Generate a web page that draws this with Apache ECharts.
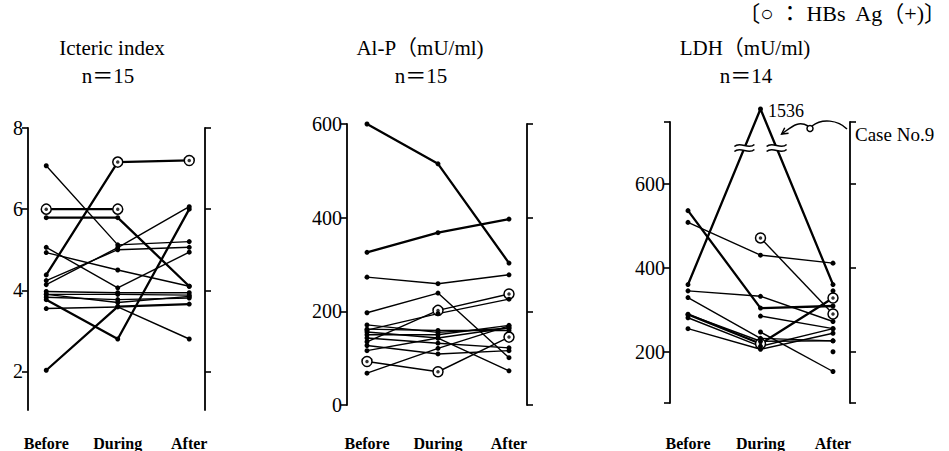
<!DOCTYPE html>
<html><head><meta charset="utf-8">
<script src="https://cdn.jsdelivr.net/npm/echarts@6/dist/echarts.min.js"></script>
<style>html,body{margin:0;padding:0;background:#fff}#c{width:949px;height:451px}</style>
</head><body><div id="c"></div>
<script>
// ---------- data ----------
const categories = ['Before', 'During', 'After'];

// Icteric index, one row per case: [Before, During, After]
const ictericLines = [
  [4.38, 7.16, 7.2],
  [6.0, 6.0, null],
  [5.79, 5.79, 4.1],
  [7.07, 5.12, 5.2],
  [4.24, 5.0, 5.06],
  [4.14, 5.05, 6.06],
  [5.06, 4.06, 4.94],
  [4.93, 4.5, 4.1],
  [3.55, 3.59, 2.8],
  [3.77, 2.8, 6.0],
  [2.03, 3.6, 3.66],
  [3.97, 3.94, 3.94],
  [3.9, 3.9, 3.88],
  [3.83, 3.77, 3.81],
  [3.9, 3.7, 3.85]
];
const ictericHbs = [[0, 1], [0, 2], [1, 0], [1, 1]];   // [case, time] HBs Ag (+)
const ictericBold = [0, 1, 2, 9, 10];
const ictericTicks = [2, 4, 6, 8];

// Al-P (mU/ml)
const alpLines = [
  [600, 515, 303],
  [326, 368, 397],
  [273, 259, 278],
  [197, 239, 101],
  [135, 202, 237],
  [160, 195, 226],
  [93, 71, 145],
  [68, 121, 169],
  [171, 155, 164],
  [162, 159, 159],
  [156, 143, 73],
  [150, 150, 170],
  [143, 132, 122],
  [127, 109, 116],
  [116, 143, 165]
];
const alpHbs = [[4, 1], [4, 2], [6, 0], [6, 1], [6, 2]];
const alpBold = [0, 1];
const alpTicks = [0, 200, 400, 600];

// LDH (mU/ml)
const ldhLines = [
  [360, 1536, 360],
  [536, 304, 309],
  [508, 430, 411],
  [null, 471, 290],
  [345, 332, 272],
  [329, 232, 226],
  [289, 219, 328],
  [281, 213, 255],
  [255, 206, 244],
  [null, 285, 255],
  [null, 247, 153],
  [null, null, 200],
  [null, null, 345],
  [289, 225, 226]
];
const ldhHbs = [[3, 1], [3, 2], [6, 1], [6, 2]];
const ldhBold = [0, 1, 6];
const ldhTicks = [200, 400, 600];
const ldhCase9 = 0;

// ---------- chart ----------
const SERIF = "'Liberation Serif','Noto Sans CJK JP',serif";
const chart = echarts.init(document.getElementById('c'), null, {renderer: 'svg'});

const grids = [
  {left: 10.5, width: 214.5, top: 128, height: 282},
  {left: 331.5, width: 213, top: 124, height: 281},
  {left: 651.75, width: 217.5, top: 109, height: 294},
  {left: 651.75, width: 217.5, top: 122, height: 281}
];

function xAx(gi, margin, show) {
  return {
    type: 'category', gridIndex: gi, data: categories, boundaryGap: true, show: show,
    axisLine: {show: false}, axisTick: {show: false},
    axisLabel: {margin: margin, color: '#000', fontFamily: SERIF, fontSize: 16, fontWeight: 'bold'}
  };
}
const axLine = {show: true, lineStyle: {color: '#000', width: 1.8}};
function yLeft(gi, min, max, labels, ticks, offset) {
  return {
    type: 'value', gridIndex: gi, position: 'left', min: min, max: max, offset: offset,
    splitLine: {show: false}, axisLine: axLine,
    axisTick: {show: true, length: 6, lineStyle: {color: '#000', width: 1.6}, customValues: ticks},
    axisLabel: {show: true, margin: 5, color: '#000', fontFamily: SERIF, fontSize: 20, customValues: labels}
  };
}
function yRight(gi, min, max, ticks, offset) {
  return {
    type: 'value', gridIndex: gi, position: 'right', min: min, max: max, offset: offset,
    splitLine: {show: false}, axisLine: axLine,
    axisTick: {show: true, length: 6, lineStyle: {color: '#000', width: 1.6}, customValues: ticks},
    axisLabel: {show: false}
  };
}

const xAxes = [xAx(0, 25, true), xAx(1, 30, true), xAx(2, 32, true), xAx(3, 8, false)];
const yAxes = [
  yLeft(0, 1.05, 8, ictericTicks, ictericTicks, -17.5),
  yRight(0, 1.05, 8, ictericTicks, -20),
  yLeft(1, 0, 600, alpTicks, alpTicks, -15.5),
  yRight(1, 0, 600, alpTicks, -17.5),
  {type: 'value', gridIndex: 2, min: 78, max: 1536, show: false, splitLine: {show: false},
   breaks: [{start: 747, end: 1505, gap: 0}], breakArea: {show: false}},
  yLeft(3, 78, 747, ldhTicks, [78].concat(ldhTicks, [747]), -18.25),
  yRight(3, 78, 747, [78].concat(ldhTicks, [747]), -19.25)
];

const series = [];
function addPanel(lines, hbs, bold, xi, yi, labelFn) {
  const start = series.length;
  lines.forEach(function (vals, i) {
    const data = vals.map(function (v, j) {
      if (v == null) return null;
      const isH = hbs.some(function (h) { return h[0] === i && h[1] === j; });
      const item = {value: v};
      if (isH) {
        item.symbol = 'circle';
        item.symbolSize = 10;
        item.itemStyle = {color: '#fff', borderColor: '#000', borderWidth: 1.5};
      }
      if (labelFn) labelFn(item, i, j);
      return item;
    });
    series.push({
      type: 'line', xAxisIndex: xi, yAxisIndex: yi, data: data,
      symbol: 'circle', symbolSize: 5, showAllSymbol: true,
      itemStyle: {color: '#000'},
      lineStyle: {color: '#000', width: bold.indexOf(i) >= 0 ? 2.3 : 1.4},
      animation: false, silent: true, z: 2
    });
  });
  series.push({
    type: 'scatter', xAxisIndex: xi, yAxisIndex: yi, symbolSize: 3.5,
    data: hbs.map(function (h) { return [h[1], lines[h[0]][h[1]]]; }),
    itemStyle: {color: '#000'}, animation: false, silent: true, z: 6
  });
  return start;
}
addPanel(ictericLines, ictericHbs, ictericBold, 0, 0);
addPanel(alpLines, alpHbs, alpBold, 1, 2);
const ldhStart = addPanel(ldhLines, ldhHbs, ldhBold, 2, 4, function (item, i, j) {
  if (i === ldhCase9 && j === 1) {
    item.label = {show: true, position: 'right', distance: 5, formatter: '{c}',
      color: '#000', fontFamily: SERIF, fontSize: 18, offset: [0, 2]};
  }
});

function txt(text, x, y, size, align) {
  return {type: 'text', silent: true, z: 10,
    style: {text: text, x: x, y: y, fill: '#000', font: size + 'px ' + SERIF,
      textAlign: align || 'center', textVerticalAlign: 'middle'}};
}
const titles = [
  txt('Icteric index', 112, 48, 21),
  txt('n＝15', 108, 76, 21),
  txt('Al-P（mU/ml)', 420, 48, 21),
  txt('n＝15', 421, 76, 21),
  txt('LDH（mU/ml)', 745, 48, 21),
  txt('n＝14', 746, 76, 21),
  txt('〔○ ： HBs  Ag（+)〕', 946, 13, 22, 'right')
];

chart.setOption({
  animation: false,
  backgroundColor: '#fff',
  grid: grids,
  xAxis: xAxes,
  yAxis: yAxes,
  series: series,
  graphic: titles
});

// ---------- break marks and Case No.9 annotation ----------
const cs = {seriesIndex: ldhStart + ldhCase9};
const c9 = ldhLines[ldhCase9];
const p0 = chart.convertToPixel(cs, [0, c9[0]]);
const p1 = chart.convertToPixel(cs, [1, c9[1]]);
const p2 = chart.convertToPixel(cs, [2, c9[2]]);
const by = p1[1] + 39;
function onSeg(a, b, y) { return a[0] + (b[0] - a[0]) * (a[1] - y) / (a[1] - b[1]); }
const bl = [onSeg(p0, p1, by), by];
const br = [onSeg(p2, p1, by), by];
function curve(x1, y1, c1x, c1y, c2x, c2y, x2, y2, w) {
  return {type: 'bezierCurve', silent: true, z: 12,
    shape: {x1: x1, y1: y1, cpx1: c1x, cpy1: c1y, cpx2: c2x, cpy2: c2y, x2: x2, y2: y2},
    style: {fill: 'none', stroke: '#000', lineWidth: w || 1.5}};
}
function breakMark(c) {
  const x = c[0], y = c[1];
  function wave(dy) {
    return curve(x - 10, y + dy + 1, x - 4, y + dy - 5, x + 4, y + dy + 5, x + 10, y + dy - 1, 1.6);
  }
  return [
    {type: 'rect', silent: true, z: 11, shape: {x: x - 10, y: y - 2.5, width: 20, height: 5}, style: {fill: '#fff'}},
    wave(-2.5), wave(2.5)
  ];
}
const tip = [br[0] + 5, br[1] - 14];
const sx = 847, sy = 129;
const lx = 810, ly = 127;
const ang = Math.atan2(7, -10);
function arm(d) {
  const a = ang + Math.PI + d;
  return [tip[0] + 7 * Math.cos(a), tip[1] + 7 * Math.sin(a)];
}
const a1 = arm(0.5), a2 = arm(-0.5);
const extra = [].concat(breakMark(bl), breakMark(br), [
  curve(sx, sy, sx - 9, sy - 9, lx + 12, ly - 9, lx + 2, ly - 1),
  curve(lx - 2, ly - 1, lx - 12, ly - 7, tip[0] + 10, tip[1] - 7, tip[0], tip[1]),
  {type: 'circle', silent: true, z: 12, shape: {cx: lx, cy: ly + 1.5, r: 3}, style: {fill: '#fff', stroke: '#000', lineWidth: 1.5}},
  {type: 'polyline', silent: true, z: 12, shape: {points: [a1, tip, a2]}, style: {fill: 'none', stroke: '#000', lineWidth: 1.5}},
  txt('Case No.9', 855, 134, 19, 'left')
]);
chart.setOption({graphic: titles.concat(extra)});
</script>
</body></html>
